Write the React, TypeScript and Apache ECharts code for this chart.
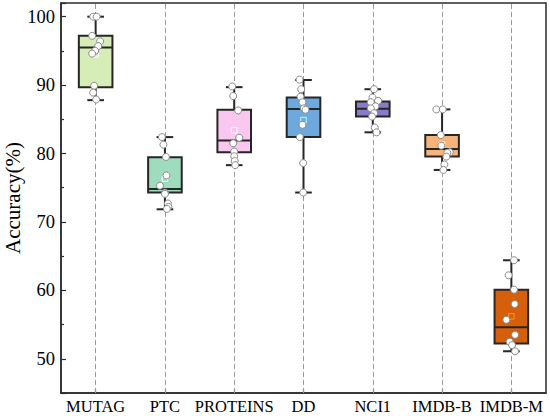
import React, { useEffect, useRef } from "react";
import * as echarts from "echarts";

const CATEGORIES = ["MUTAG", "PTC", "PROTEINS", "DD", "NCI1", "IMDB-B", "IMDB-M"];
const BOX_COLORS = ["#d6edb8", "#9fdbbd", "#f9c7f0", "#6fa8dc", "#8b79c9", "#f7b37c", "#d65f0c"];

// [lower whisker, Q1, median, Q3, upper whisker]
const BOX_STATS: number[][] = [
  [87.8, 89.7, 95.5, 97.2, 100],
  [71.85, 74.3, 74.8, 79.45, 82.4],
  [78.3, 80.2, 81.9, 86.4, 89.7],
  [74.3, 82.4, 86.5, 88.2, 90.75],
  [83.1, 85.4, 86.55, 87.6, 89.4],
  [77.6, 79.55, 80.65, 82.7, 86.45],
  [51.1, 52.25, 54.6, 60.1, 64.4],
];
const MEANS = [94.5, 76.3, 83.4, 84.9, 86.5, 81.3, 56.2];

const POINTS: number[][] = [
  [100, 100, 97.2, 96.4, 95.7, 95.0, 94.6, 89.9, 88.9, 87.9],
  [82.4, 81.3, 79.5, 76.8, 75.3, 74.3, 74.1, 72.7, 72.2, 71.9],
  [89.8, 88.4, 86.3, 82.3, 81.5, 80.3, 79.6, 78.9, 78.3],
  [90.8, 89.4, 88.3, 87.5, 86.6, 86.4, 84.2, 82.4, 78.6, 74.3],
  [89.4, 88.2, 87.7, 87.5, 86.9, 86.6, 85.9, 85.4, 83.8, 83.1],
  [86.45, 86.45, 82.7, 81.15, 80.2, 80.1, 79.55, 78.4, 77.6],
  [64.4, 62.2, 60.1, 58.0, 55.7, 53.5, 52.5, 52.0, 51.1],
];
// horizontal jitter of each point (px)
const JITTER: number[][] = [
  [-2.5, 1, -3.5, 4.5, 2.5, -0.5, -3.5, -1.5, -2.5, 0.5],
  [-3, -1.5, 1, 1.5, -5, 0, 0, 3, 3.5, 2],
  [-2, -1, 4, 5, -1, 0, 0, 0.5, 1],
  [-4, -2.3, -3, -1, 0.3, 2, -1, -3.7, -0.3, -0.3],
  [1.3, -0.3, 5.3, -2, 2.7, -2, 1.3, -0.7, 2, 3.7],
  [-5.7, 0.7, -1.3, -0.7, 7.7, 5.3, 4.3, 2.3, 1.3],
  [2.7, -2.7, 2.7, 3.3, -5, 3.7, -1.7, 0.7, 3.7],
];

const FONT = "'Liberation Serif', 'Times New Roman', serif";
const AXIS_COLOR = "#2b2b2b";

export default function App() {
  const ref = useRef<HTMLDivElement>(null);
  useEffect(() => {
    if (!ref.current) return;
    document.body.style.margin = "0";
    const chart = echarts.init(ref.current, undefined, { renderer: "svg" });

    const boxData = CATEGORIES.map((_, i) => [i, ...BOX_STATS[i], MEANS[i]]);
    const pointData: any[] = [];
    POINTS.forEach((arr, i) =>
      arr.forEach((v, j) =>
        pointData.push({ value: [i, v], symbolOffset: [JITTER[i][j] || 0, 0] })
      )
    );

    const option: any = {
      animation: false,
      backgroundColor: "#ffffff",
      textStyle: { fontFamily: FONT },
      grid: {
        left: 61,
        right: 4,
        top: 3,
        bottom: 23,
        containLabel: false,
        outerBoundsMode: "none",
        show: true,
        borderColor: AXIS_COLOR,
        borderWidth: 1.5,
      },
      xAxis: {
        type: "category",
        data: CATEGORIES,
        boundaryGap: true,
        axisLine: { lineStyle: { color: AXIS_COLOR, width: 1.5 } },
        axisTick: { show: true, inside: true, alignWithLabel: true, length: 4, lineStyle: { color: AXIS_COLOR, width: 1.2 } },
        axisLabel: { color: "#000", fontFamily: FONT, fontSize: 16.5, margin: 5, interval: 0 },
        splitLine: { show: false },
      },
      yAxis: {
        type: "value",
        min: 45,
        max: 102,
        name: "Accuracy(%)",
        nameLocation: "middle",
        nameGap: 38,
        nameMoveOverlap: false,
        nameTextStyle: { color: "#000", fontFamily: FONT, fontSize: 21 },
        axisLine: { show: true, lineStyle: { color: AXIS_COLOR, width: 1.5 } },
        axisTick: { show: true, inside: true, length: 5, lineStyle: { color: AXIS_COLOR, width: 1.2 } },
        minorTick: { show: true, splitNumber: 2, length: 3, lineStyle: { color: AXIS_COLOR, width: 1.2 } },
        axisLabel: {
          color: "#000",
          fontFamily: FONT,
          fontSize: 18.5,
          margin: 6,
          formatter: (v: number) => (v % 10 === 0 ? String(v) : ""),
        },
        splitLine: { show: false },
      },
      series: [
        {
          type: "custom",
          z: 3,
          data: boxData,
          encode: { x: 0, y: [1, 2, 3, 4, 5] },
          renderItem: (params: any, api: any) => {
            const i = api.value(0);
            const lo = api.value(1), q1 = api.value(2), med = api.value(3), q3 = api.value(4), hi = api.value(5), mean = api.value(6);
            const band = api.size([1, 0])[0];
            const bw = band * 0.485;
            const cw = band * 0.24;
            const pLo = api.coord([i, lo]);
            const pQ1 = api.coord([i, q1]);
            const pMed = api.coord([i, med]);
            const pQ3 = api.coord([i, q3]);
            const pHi = api.coord([i, hi]);
            const pMean = api.coord([i, mean]);
            const x = pMed[0];
            const color = BOX_COLORS[i];
            const stroke = "#262626";
            const lw = 2;
            const ms = 5.5;
            return {
              type: "group",
              children: [
                { type: "line", shape: { x1: x, y1: pHi[1], x2: x, y2: pQ3[1] }, style: { stroke, lineWidth: lw } },
                { type: "line", shape: { x1: x, y1: pQ1[1], x2: x, y2: pLo[1] }, style: { stroke, lineWidth: lw } },
                { type: "line", shape: { x1: x - cw / 2, y1: pHi[1], x2: x + cw / 2, y2: pHi[1] }, style: { stroke, lineWidth: lw } },
                { type: "line", shape: { x1: x - cw / 2, y1: pLo[1], x2: x + cw / 2, y2: pLo[1] }, style: { stroke, lineWidth: lw } },
                {
                  type: "rect",
                  shape: { x: x - bw / 2, y: pQ3[1], width: bw, height: pQ1[1] - pQ3[1] },
                  style: { fill: color, stroke, lineWidth: lw },
                },
                { type: "line", shape: { x1: x - bw / 2, y1: pMed[1], x2: x + bw / 2, y2: pMed[1] }, style: { stroke, lineWidth: lw } },
                {
                  type: "rect",
                  shape: { x: pMean[0] - ms / 2, y: pMean[1] - ms / 2, width: ms, height: ms },
                  style: { fill: "none", stroke: echarts.color.lift(color, -0.6), lineWidth: 1 },
                },
              ],
            };
          },
        },
        {
          type: "scatter",
          z: 4,
          data: pointData,
          symbol: "circle",
          symbolSize: 7,
          itemStyle: { color: "#ffffff", borderColor: "#8a8a8a", borderWidth: 1, opacity: 1 },
          markLine: {
            silent: true,
            z: 1,
            symbol: "none",
            label: { show: false },
            lineStyle: { color: "#9a9a9a", width: 1, type: [5, 3] },
            data: CATEGORIES.map((c) => ({ xAxis: c })),
          },
        },
      ],
    };
    chart.setOption(option);
    return () => chart.dispose();
  }, []);
  return <div ref={ref} style={{ width: 550, height: 416 }} />;
}
